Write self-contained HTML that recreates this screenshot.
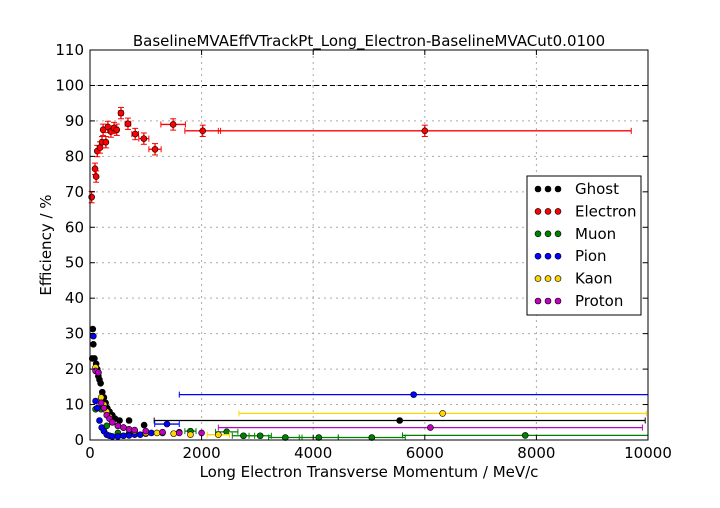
<!DOCTYPE html>
<html><head><meta charset="utf-8"><style>
body{margin:0;background:#fff;width:720px;height:504px;overflow:hidden;font-family:"DejaVu Sans",sans-serif}
</style></head><body>
<svg id="chart" width="720" height="504" xmlns="http://www.w3.org/2000/svg" font-family="DejaVu Sans, sans-serif"></svg>
<script>
const xTicks=[0,2000,4000,6000,8000,10000];
const yTicks=[0,10,20,30,40,50,60,70,80,90,100,110];
const seriesNames=["Ghost","Electron","Muon","Pion","Kaon","Proton"];
const seriesColors=["#000000","#ff0000","#008000","#0000ff","#ffd700","#c000c0"];
const electronX=[30,90,110,130,180,215,235,285,320,375,430,480,555,680,810,965,1165,1490,2020,6000];
const electronY=[68.5,76.5,74.3,81.5,82.5,84,87.5,84,88.3,87,88,87.5,92.2,89.2,86.3,85,82,89,87.2,87.2];
const electronXErr=[20,20,20,20,20,20,20,20,20,20,20,30,40,50,60,90,110,220,320,3700];
const ghostX=[40,50,60,80,110,130,150,170,190,220,250,280,310,350,400,450,530,700,970,5550];
const ghostY=[23,31.3,27,23,21.5,20,18,17,16,13.5,12,10.5,9,8,7,6,5.5,5.5,4.2,5.5];
const ghostXErr=[0,0,0,0,0,0,0,0,0,0,0,0,0,0,0,0,0,0,0,4400];
const pionX=[60,100,130,170,210,250,300,350,400,500,600,700,800,900,1000,1100,1380,5800];
const pionY=[29.3,11,9,5.5,3.5,2.5,1.5,1.2,1,1,1.2,1.3,1.5,1.5,1.8,2,4.5,12.8];
const pionXErr=[0,0,0,0,0,0,0,0,0,0,0,0,0,0,0,0,220,4200];
const kaonX=[100,150,200,250,300,350,400,500,600,700,800,1000,1200,1500,1800,2300,6320];
const kaonY=[20.5,19,12,10,8,6.5,5,4,3.5,3,2.5,2,2,1.8,1.5,1.5,7.5];
const kaonXErr=[0,0,0,0,0,0,0,0,0,0,0,0,0,0,0,200,3650];
const protonX=[100,150,200,250,300,350,400,500,600,700,800,1000,1300,1600,2000,6100];
const protonY=[19.5,19,10.5,9,7,6,5,4,3.5,3,2.8,2.5,2.2,2,2,3.5];
const protonXErr=[0,0,0,0,0,0,0,0,0,0,0,0,0,0,0,3800];
const muonX=[100,200,300,500,700,1000,1300,1600,1800,2450,2750,3050,3500,4100,5050,7800];
const muonY=[8.7,8.7,4,2,1.8,2,2,2.2,2.5,2.3,1.2,1.2,0.7,0.7,0.7,1.3];
const muonXErr=[0,0,0,0,0,0,0,0,100,200,200,200,300,350,600,2200];

const svg=document.getElementById('chart');
const NS='http://www.w3.org/2000/svg';
const L=90,R=648,T=50,B=440;
const sx=v=>L+(v-0)/10000*(R-L);
const sy=v=>B-(v-0)/110*(B-T);
function mk(tag,attrs,parent){const e=document.createElementNS(NS,tag);for(const k in attrs)e.setAttribute(k,attrs[k]);(parent||svg).appendChild(e);return e;}
const grid=mk('g',{});


xTicks.forEach(t=>{if(t>0&&t<10000)mk('line',{x1:sx(t),x2:sx(t),y1:T,y2:B,stroke:'#aaa','stroke-dasharray':'2,4'},grid);});
yTicks.forEach(t=>{if(t>0&&t<110)mk('line',{x1:L,x2:R,y1:sy(t),y2:sy(t),stroke:'#aaa','stroke-dasharray':'2,4'},grid);});
mk('line',{x1:L,x2:R,y1:sy(100),y2:sy(100),stroke:'#000','stroke-dasharray':'5,3'},grid);
mk('line',{x1:L,x2:L,y1:T,y2:B,stroke:'#000','stroke-dasharray':'4,3'},grid);
const data=[[ghostX,ghostY,ghostXErr],[electronX,electronY,electronXErr],[muonX,muonY,muonXErr],[pionX,pionY,pionXErr],[kaonX,kaonY,kaonXErr],[protonX,protonY,protonXErr]];
data.forEach((d,si)=>{
 const g=mk('g',{});
 
 
 const c=seriesColors[si];
 d[0].forEach((x,i)=>{
  const y=d[1][i],xe=d[2][i];
  const ye=si===1?1.6:0.6;
  if(xe>0){mk('line',{x1:sx(Math.max(0,x-xe)),x2:sx(Math.min(10000,x+xe)),y1:sy(y),y2:sy(y),stroke:c,'stroke-width':1.3},g);
   [x-xe,x+xe].forEach(v=>mk('line',{x1:sx(Math.min(10000,Math.max(0,v))),x2:sx(Math.min(10000,Math.max(0,v))),y1:sy(y)-3,y2:sy(y)+3,stroke:c},g));}
  if(si===1){mk('line',{x1:sx(x),x2:sx(x),y1:sy(y+ye),y2:sy(y-ye),stroke:c,'stroke-width':1.3},g);
   mk('line',{x1:sx(x)-3,x2:sx(x)+3,y1:sy(y+ye),y2:sy(y+ye),stroke:c},g);
   mk('line',{x1:sx(x)-3,x2:sx(x)+3,y1:sy(y-ye),y2:sy(y-ye),stroke:c},g);}
  const p=mk('circle',{cx:sx(x),cy:sy(y),r:3,fill:c,stroke:'#000','stroke-width':0.6},g);
  
  
 });
});
mk('rect',{x:L,y:T,width:R-L,height:B-T,fill:'none',stroke:'#000'});
const xa=mk('g',{});


xTicks.forEach(t=>{mk('line',{x1:sx(t),x2:sx(t),y1:B,y2:B-5,stroke:'#000'},xa);mk('line',{x1:sx(t),x2:sx(t),y1:T,y2:T+5,stroke:'#000'},xa);
 const tx=mk('text',{x:sx(t),y:B+18,'text-anchor':'middle','font-size':15},xa);tx.textContent=t;});
const ya=mk('g',{});


yTicks.forEach(t=>{mk('line',{x1:L,x2:L+5,y1:sy(t),y2:sy(t),stroke:'#000'},ya);mk('line',{x1:R,x2:R-5,y1:sy(t),y2:sy(t),stroke:'#000'},ya);
 const tx=mk('text',{x:L-6,y:sy(t)+5,'text-anchor':'end','font-size':15},ya);tx.textContent=t;});
const xt=mk('text',{x:369,y:477,'text-anchor':'middle','font-size':15});xt.textContent='Long Electron Transverse Momentum / MeV/c';


const yt=mk('text',{x:51,y:245,'text-anchor':'middle','font-size':15,transform:'rotate(-90 51 245)'});yt.textContent='Efficiency / %';


const tt=mk('text',{x:369,y:46,'text-anchor':'middle','font-size':15});tt.textContent='BaselineMVAEffVTrackPt_Long_Electron-BaselineMVACut0.0100';


const lg=mk('g',{});


mk('rect',{x:527,y:176,width:114,height:139,fill:'#fff',stroke:'#000'},lg);
seriesNames.forEach((n,i)=>{
 const e=mk('g',{},lg);
 
 
 const y=189+i*22.4;
 [538,548,558].forEach(cx=>mk('circle',{cx:cx,cy:y,r:3,fill:seriesColors[i],stroke:'#000','stroke-width':0.6},e));
 const t=mk('text',{x:575,y:y+5,'font-size':15},e);t.textContent=n;
});
</script>
</body></html>
